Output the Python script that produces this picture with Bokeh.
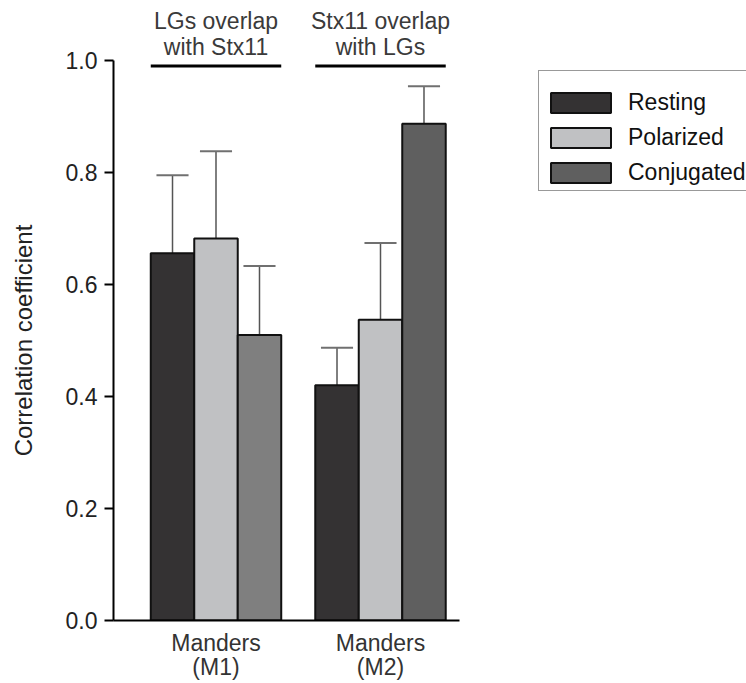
from bokeh.plotting import figure
from bokeh.models import Range1d, FixedTicker, Legend, LegendItem, ColumnDataSource, LinearAxis
from bokeh.embed import file_html
from bokeh.resources import INLINE

# ---- data ----
groups = ["Manders\n(M1)", "Manders\n(M2)"]
group_titles = ["LGs overlap\nwith Stx11", "Stx11 overlap\nwith LGs"]
conditions = ["Resting", "Polarized", "Conjugated"]
resting = [0.656, 0.420]
resting_err = [0.139, 0.067]
polarized = [0.682, 0.537]
polarized_err = [0.156, 0.137]
conjugated = [0.510, 0.887]
conjugated_err = [0.123, 0.067]
y_ticks = [0.0, 0.2, 0.4, 0.6, 0.8, 1.0]

# ---- styles ----
FONT = "Liberation Sans"
colors = [["#343233", "#343233"], ["#c0c1c3", "#c0c1c3"], ["#7f7f7f", "#5f5f5f"]]
legend_index = [0, 0, 1]
bar_w = 0.2644
cap_w = 0.195
gx = [1, 2]

W, H = 746, 683
X0 = 0.3769
p = figure(width=W, height=H, output_backend="svg", toolbar_location=None,
           x_range=Range1d(X0, X0 + 633 / 164.5), y_range=Range1d(0, 1.0),
           min_border_left=113, min_border_right=0, min_border_top=60,
           min_border_bottom=63)
p.outline_line_color = None
p.grid.visible = False
p.background_fill_color = "white"
p.border_fill_color = "white"

xax = p.below[0]
yax = p.left[0]

series = [(resting, resting_err), (polarized, polarized_err), (conjugated, conjugated_err)]
renderers = []
for k, (vals, errs) in enumerate(series):
    off = (k - 1) * bar_w
    xs = [g + off for g in gx]
    ups = [v + e for v, e in zip(vals, errs)]
    src = ColumnDataSource(dict(x=xs, top=vals, up=ups, color=colors[k],
                                cl=[x - cap_w / 2 for x in xs], cr=[x + cap_w / 2 for x in xs]))
    p.segment(x0="x", y0="top", x1="x", y1="up", source=src, line_color="#555555", line_width=1.5)
    p.segment(x0="cl", y0="up", x1="cr", y1="up", source=src, line_color="#707070", line_width=2)
    r = p.vbar(x="x", top="top", bottom=0, width=bar_w, source=src,
               fill_color="color", line_color="#111111", line_width=2)
    renderers.append(r)

# group underlines
p.segment(x0=[g - 1.5 * bar_w for g in gx], y0=[0.99] * 2,
          x1=[g + 1.5 * bar_w for g in gx], y1=[0.99] * 2,
          line_color="black", line_width=3)

# group titles as an axis above the plot
top_ax = LinearAxis(ticker=FixedTicker(ticks=gx),
                    major_label_overrides={g: t for g, t in zip(gx, group_titles)},
                    axis_line_color=None, major_tick_line_color=None,
                    minor_tick_line_color=None, major_label_standoff=-5,
                    major_label_text_font=FONT, major_label_text_font_size="23px",
                    major_label_text_color="#3a3a3a", major_label_text_line_height=0.97)
p.add_layout(top_ax, "above")

# y axis
yax.ticker = FixedTicker(ticks=y_ticks)
yax.major_label_overrides = {t: f"{t:.1f}" for t in y_ticks}
yax.axis_line_width = 2
yax.axis_line_color = "black"
yax.major_tick_line_width = 2
yax.major_tick_line_color = "black"
yax.major_tick_out = 9
yax.major_tick_in = 0
yax.minor_tick_line_color = None
yax.major_label_text_font = FONT
yax.major_label_text_font_size = "23px"
yax.major_label_text_color = "#222222"
yax.major_label_standoff = 7
yax.axis_label = "Correlation coefficient"
yax.axis_label_text_font = FONT
yax.axis_label_text_font_size = "24px"
yax.axis_label_text_font_style = "normal"
yax.axis_label_text_color = "#222222"
yax.axis_label_standoff = 26

# x axis
xax.ticker = FixedTicker(ticks=gx)
xax.major_label_overrides = {g: lab for g, lab in zip(gx, groups)}
xax.bounds = (X0, 2.48)
xax.axis_line_width = 2
xax.axis_line_color = "black"
xax.major_tick_line_color = None
xax.minor_tick_line_color = None
xax.major_label_text_font = FONT
xax.major_label_text_font_size = "23px"
xax.major_label_text_color = "#333333"
xax.major_label_text_line_height = 0.95
xax.major_label_standoff = 3

# legend
items = [LegendItem(label=c, renderers=[r], index=i)
         for c, r, i in zip(conditions, renderers, legend_index)]
legend = Legend(items=items, location=(425, 429), orientation="vertical",
                title=" ", title_text_font_size="10px", title_standoff=3,
                glyph_width=75, glyph_height=25, label_height=25, spacing=8,
                padding=4, margin=0, label_standoff=10,
                label_text_font=FONT, label_text_font_size="23px", label_text_color="#111111",
                border_line_color="#333333", border_line_width=1.5,
                background_fill_color="white", background_fill_alpha=1.0)
p.add_layout(legend)

open("out.html", "w").write(file_html(p, INLINE))
